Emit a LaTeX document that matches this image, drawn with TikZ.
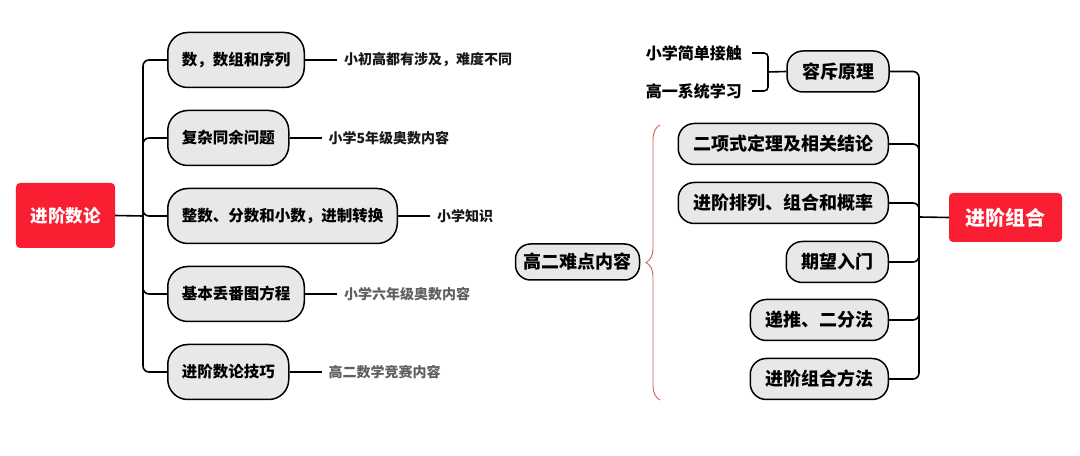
\documentclass[tikz,border=0pt]{standalone}
\usepackage{fontspec}
\setmainfont{Noto Sans CJK SC}[BoldFont={Noto Sans CJK SC Black}]
\usetikzlibrary{calc,decorations.pathreplacing}

\definecolor{rootred}{RGB}{250,30,50}
\definecolor{pillgray}{RGB}{232,232,232}
\definecolor{leafgray}{RGB}{95,95,95}
\definecolor{leafdark}{RGB}{25,25,25}
\definecolor{bracered}{RGB}{210,95,95}

\begin{document}
\begin{tikzpicture}[x=1bp, y=-1bp,
		conn/.style={line width=1.6bp, rounded corners=6bp},
		rootbox/.style={fill=rootred, text=white, rounded corners=4bp, inner sep=0pt},
		pill/.style={draw, fill=pillgray, line width=1.5bp, inner ysep=0pt},
		lpill/.style={pill, rounded corners=20bp, minimum height=55bp, inner xsep=14bp, font=\bfseries\fontsize{15.5bp}{16bp}\selectfont},
		rpill/.style={pill, rounded corners=16bp, minimum height=41bp, inner xsep=15bp, font=\bfseries\fontsize{18bp}{19bp}\selectfont},
		leaf/.style={inner xsep=7bp, font=\bfseries\fontsize{14bp}{15bp}\selectfont}]
			\useasboundingbox (0,0) rectangle (1080,456);
			\coordinate (LT) at (143,216);
			\coordinate (RT) at (919,217);
			
			% left tree
			\node[rootbox, minimum width=99bp, minimum height=65bp, font=\bfseries\fontsize{17.5bp}{18bp}\selectfont] (nroot) at (65.5,215.5) {进阶数论};
			\draw[conn] (nroot.east) -- (LT);
			\foreach \n/\y/\t/\l/\c in {a/60/{数，数组和序列}/{小初高都有涉及，难度不同}/leafdark,
				b/138/{复杂同余问题}/{小学5年级奥数内容}/leafdark,
				c/216/{整数、分数和小数，进制转换}/{小学知识}/leafdark,
				d/294/{基本丢番图方程}/{小学六年级奥数内容}/leafgray,
				e/372/{进阶数论技巧}/{高二数学竞赛内容}/leafgray} {
				\node[lpill, anchor=west] (p\n) at (167,\y) {\t};
				\node[leaf, text=\c, anchor=west] (l\n) at ($(p\n.east)+(32,0)$) {\l};
				\draw[conn] (LT) |- (p\n.west);
				\draw[conn] (p\n.east) -- (l\n.west);
			}
			
			% right tree
			\node[rootbox, minimum width=113bp, minimum height=49bp, font=\bfseries\fontsize{20bp}{21bp}\selectfont] (croot) at (1005.5,217.5) {进阶组合};
			\draw[conn] (croot.west) -- (RT);
			\node[rpill] (qa) at (838,71.5) {容斥原理};
			\draw[conn] (RT) |- (qa.east);
			\foreach \n/\y/\t in {b/144/{二项式定理及相关结论}, c/203/{进阶排列、组合和概率},
				d/262/{期望入门}, e/320/{递推、二分法}, f/379/{进阶组合方法}} {
				\node[rpill, anchor=east] (q\n) at (889,\y) {\t};
				\draw[conn] (RT) |- (q\n.east);
			}
			
			% sub items of qa
			\node[anchor=east, inner xsep=10bp, font=\bfseries\fontsize{16bp}{17bp}\selectfont] (ua) at (752,53) {小学简单接触};
			\node[anchor=east, inner xsep=10bp, font=\bfseries\fontsize{16bp}{17bp}\selectfont] (ub) at (752,91) {高一系统学习};
			\coordinate (ubr) at (768,72);
			\draw[conn, rounded corners=4bp] (ua.east) -| (ubr) |- (ub.east);
			\draw[conn] (ubr) -- (qa.west);
			
			% summary brace
			\node[pill, rounded corners=15bp, minimum height=36bp, inner xsep=8bp, font=\bfseries\fontsize{18bp}{19bp}\selectfont] (g) at (577.5,262) {高二难点内容};
			\coordinate (bt) at (660,125);
			\coordinate (bb) at (660,400);
			\draw[bracered, line width=0.9bp, decorate, decoration={brace, amplitude=14bp}] (bb) -- (bt);
		\end{tikzpicture}
\end{document}
